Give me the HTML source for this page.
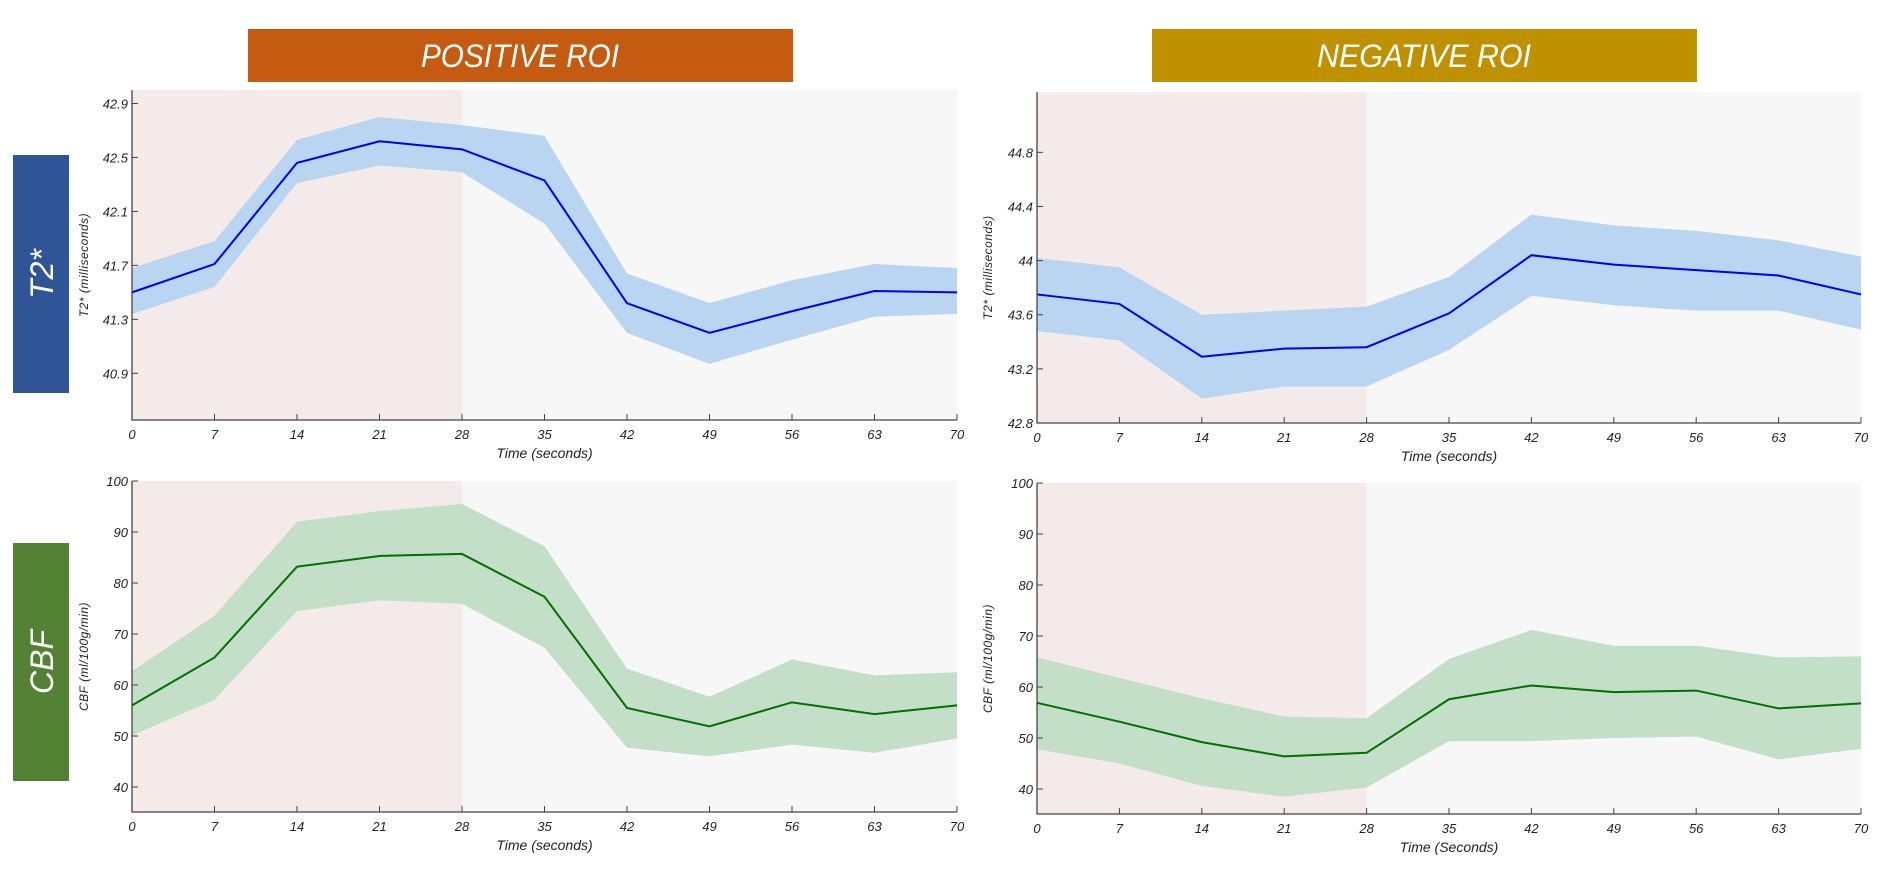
<!DOCTYPE html>
<html><head><meta charset="utf-8"><style>
html,body{margin:0;padding:0;background:#fff;width:1888px;height:874px;overflow:hidden}
svg{display:block}
text{font-family:"Liberation Sans Narrow","Liberation Sans",sans-serif;font-style:italic}
</style></head><body>
<svg id="fig" width="1888" height="874" viewBox="0 0 1888 874">
<rect x="248" y="29" width="545" height="53" fill="#C55A11"/>
<text x="520" y="67" fill="#fff" font-size="32" text-anchor="middle" textLength="198" lengthAdjust="spacingAndGlyphs">POSITIVE ROI</text>
<rect x="1152" y="29" width="545" height="53" fill="#BF9000"/>
<text x="1424" y="67" fill="#fff" font-size="32" text-anchor="middle" textLength="214" lengthAdjust="spacingAndGlyphs">NEGATIVE ROI</text>
<rect x="13" y="155" width="56" height="238" fill="#2F5597"/>
<text transform="translate(53,274) rotate(-90)" fill="#fff" font-size="32" text-anchor="middle" style="font-family:'Liberation Sans',sans-serif">T2*</text>
<rect x="13" y="543" width="56" height="238" fill="#548235"/>
<text transform="translate(53,662) rotate(-90)" fill="#fff" font-size="32" text-anchor="middle" style="font-family:'Liberation Sans',sans-serif">CBF</text>
</svg>
<script>
const times=[0,7,14,21,28,35,42,49,56,63,70];
const xTicks=[0,7,14,21,28,35,42,49,56,63,70];
const stimEnd=28;
// Positive ROI T2*
const posT2Mean=[41.50,41.71,42.46,42.62,42.56,42.33,41.42,41.20,41.36,41.51,41.50];
const posT2Upper=[41.68,41.88,42.63,42.80,42.74,42.66,41.64,41.42,41.59,41.71,41.68];
const posT2Lower=[41.34,41.54,42.31,42.44,42.39,42.01,41.20,40.97,41.15,41.32,41.34];
const posT2Ticks=[40.9,41.3,41.7,42.1,42.5,42.9];
const posT2TickLabels=["40.9","41.3","41.7","42.1","42.5","42.9"];
// Negative ROI T2*
const negT2Mean=[43.75,43.68,43.29,43.35,43.36,43.61,44.04,43.97,43.93,43.89,43.75];
const negT2Upper=[44.02,43.95,43.60,43.63,43.66,43.88,44.34,44.26,44.22,44.15,44.03];
const negT2Lower=[43.48,43.41,42.98,43.07,43.07,43.34,43.74,43.67,43.63,43.63,43.49];
const negT2Ticks=[42.8,43.2,43.6,44,44.4,44.8];
const negT2TickLabels=["42.8","43.2","43.6","44","44.4","44.8"];
// Positive ROI CBF
const posCbfMean=[56.0,65.4,83.2,85.3,85.7,77.3,55.5,51.9,56.6,54.3,56.0];
const posCbfUpper=[62.7,73.6,92.0,94.1,95.5,87.2,63.2,57.7,65.0,61.9,62.5];
const posCbfLower=[50.1,57.1,74.5,76.6,75.9,67.3,47.7,46.0,48.3,46.7,49.5];
// Negative ROI CBF
const negCbfMean=[56.9,53.2,49.2,46.4,47.1,57.6,60.3,59.0,59.3,55.8,56.8];
const negCbfUpper=[65.8,61.8,57.8,54.2,53.9,65.5,71.2,68.1,68.1,65.8,66.0];
const negCbfLower=[47.8,45.0,40.6,38.5,40.3,49.4,49.4,50.0,50.3,45.8,47.9];
const cbfTicks=[40,50,60,70,80,90,100];
const cbfTickLabels=["40","50","60","70","80","90","100"];

const NS="http://www.w3.org/2000/svg";
const svg=document.getElementById('fig');
function mk(tag,attrs,parent){const e=document.createElementNS(NS,tag);for(const k in attrs)e.setAttribute(k,attrs[k]);(parent||svg).appendChild(e);return e;}

function panel(p){
  const g=mk('g',{});
  
  
  const xs=v=>p.x0+(v-0)/(70-0)*(p.x1-p.x0);
  const ys=v=>p.y1-(v-p.ymin)/(p.ymax-p.ymin)*(p.y1-p.y0);
  const bgR=mk('rect',{x:p.x0,y:p.y0,width:p.x1-p.x0,height:p.y1-p.y0,fill:'#F7F7F7'},g);
  
  
  const st=mk('rect',{x:p.x0,y:p.y0,width:xs(stimEnd)-p.x0,height:p.y1-p.y0,fill:'#F5EAEA'},g);
  
  
  let d='';
  times.forEach((t,i)=>{d+=(i?'L':'M')+xs(t)+','+ys(p.upper[i]);});
  for(let i=times.length-1;i>=0;i--)d+='L'+xs(times[i])+','+ys(p.lower[i]);
  const band=mk('path',{d:d+'Z',fill:p.band},g);
  
  
  const pts=times.map((t,i)=>xs(t)+','+ys(p.mean[i])).join(' ');
  const ln=mk('polyline',{points:pts,fill:'none',stroke:p.line,'stroke-width':2},g);
  
  
  const ax=mk('path',{d:`M${p.x0},${p.y0}V${p.y1}H${p.x1}`,fill:'none',stroke:'#444','stroke-width':1.3},g);
  
  
  xTicks.forEach(t=>{
    mk('line',{x1:xs(t),x2:xs(t),y1:p.y1,y2:p.y1-6,stroke:'#444','stroke-width':1},g);
    const tl=mk('text',{x:xs(t),y:p.y1+19,'font-size':13,fill:'#222','text-anchor':'middle'},g);
    tl.textContent=t;
    
    
  });
  p.ticks.forEach((v,i)=>{
    mk('line',{x1:p.x0,x2:p.x0+6,y1:ys(v),y2:ys(v),stroke:'#444','stroke-width':1},g);
    const tl=mk('text',{x:p.x0-4,y:ys(v)+5,'font-size':13,fill:'#222','text-anchor':'end'},g);
    tl.textContent=p.tickLabels[i];
    
    
  });
  const xt=mk('text',{x:(p.x0+p.x1)/2,y:p.y1+38,'font-size':14,fill:'#222','text-anchor':'middle'},g);
  xt.textContent=p.xTitle;
  
  
  const yt=mk('text',{transform:`translate(${p.ylx},${(p.y0+p.y1)/2+10}) rotate(-90)`,'font-size':12,fill:'#222','text-anchor':'middle',style:"font-family:'Liberation Sans',sans-serif;letter-spacing:0.5px"},g);
  yt.textContent=p.yTitle;
  
  
}
panel({name:'positive-t2-chart',x0:132,x1:957,y0:90,y1:420,ymin:40.554,ymax:43.0,mean:posT2Mean,upper:posT2Upper,lower:posT2Lower,ticks:posT2Ticks,tickLabels:posT2TickLabels,band:'#B9D5F2',line:'#0000EE',xTitle:'Time (seconds)',yTitle:'T2* (milliseconds)',ylx:88});
panel({name:'negative-t2-chart',x0:1037,x1:1861,y0:92,y1:423,ymin:42.8,ymax:45.246,mean:negT2Mean,upper:negT2Upper,lower:negT2Lower,ticks:negT2Ticks,tickLabels:negT2TickLabels,band:'#B9D5F2',line:'#0000EE',xTitle:'Time (seconds)',yTitle:'T2* (milliseconds)',ylx:992});
panel({name:'positive-cbf-chart',x0:132,x1:957,y0:481,y1:812,ymin:35.1,ymax:100,mean:posCbfMean,upper:posCbfUpper,lower:posCbfLower,ticks:cbfTicks,tickLabels:cbfTickLabels,band:'#C3DFC7',line:'#007000',xTitle:'Time (seconds)',yTitle:'CBF (ml/100g/min)',ylx:88});
panel({name:'negative-cbf-chart',x0:1037,x1:1861,y0:483,y1:814,ymin:35.1,ymax:100,mean:negCbfMean,upper:negCbfUpper,lower:negCbfLower,ticks:cbfTicks,tickLabels:cbfTickLabels,band:'#C3DFC7',line:'#007000',xTitle:'Time (Seconds)',yTitle:'CBF (ml/100g/min)',ylx:992});
</script>
</body></html>
